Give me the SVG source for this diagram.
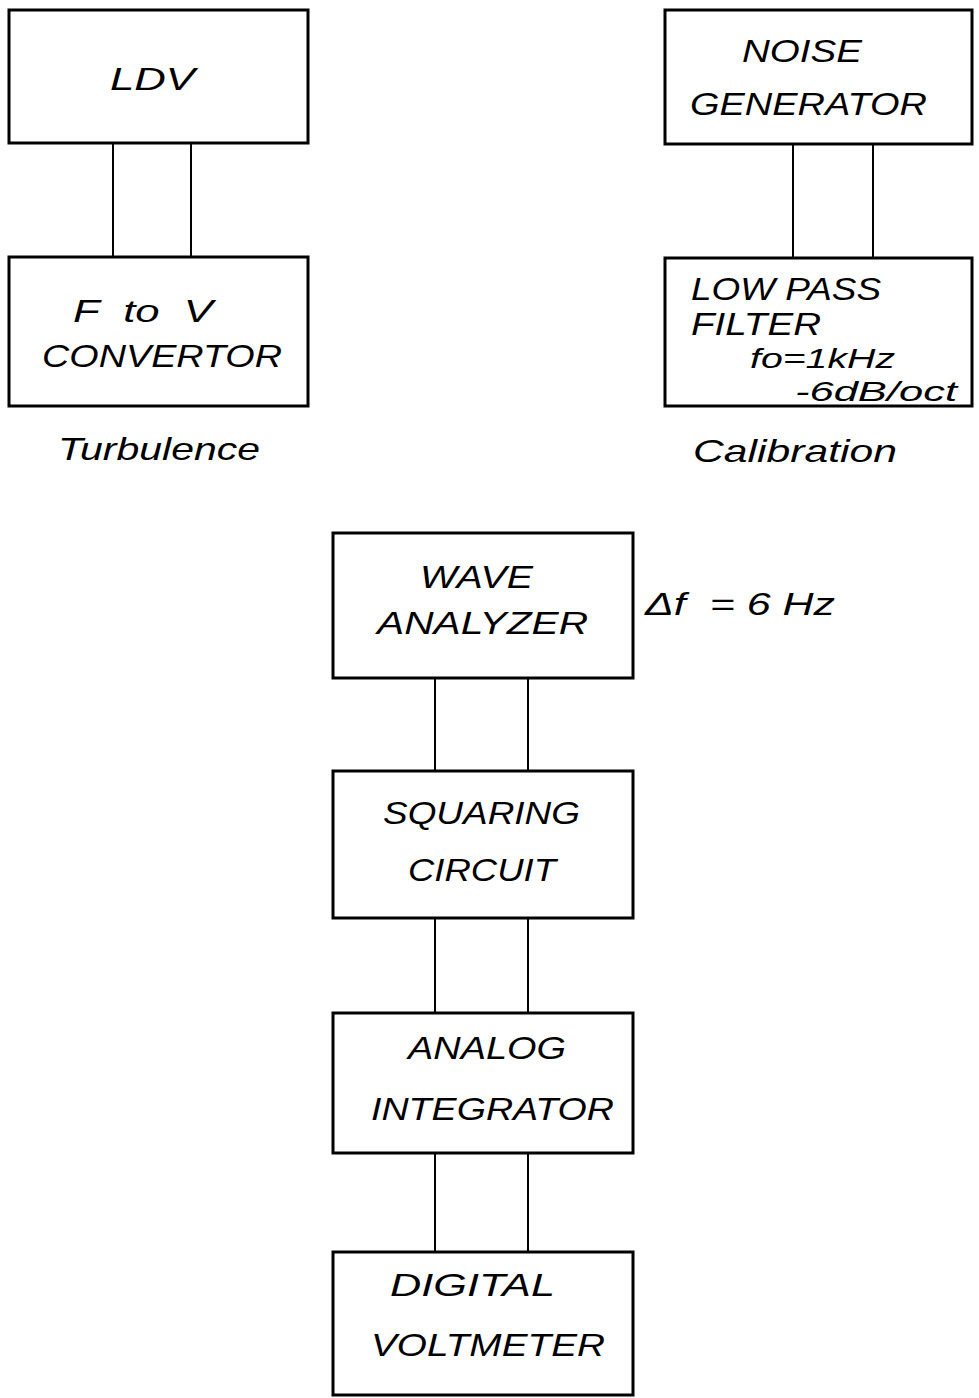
<svg xmlns="http://www.w3.org/2000/svg" width="979" height="1398" viewBox="0 0 979 1398">
<style>
.box{fill:none;stroke:#000;stroke-width:3}
.ln{stroke:#000;stroke-width:2;fill:none}
text{font-family:"Liberation Sans",Arial,sans-serif;font-style:italic;font-size:32px;fill:#000}
.sm{font-size:28px}
</style>
<rect width="979" height="1398" fill="#fff"/>
<g id="connectors">
<line class="ln" x1="113" y1="143" x2="113" y2="257"/>
<line class="ln" x1="191" y1="143" x2="191" y2="257"/>
<line class="ln" x1="793" y1="145" x2="793" y2="258"/>
<line class="ln" x1="873" y1="145" x2="873" y2="258"/>
<line class="ln" x1="435" y1="678" x2="435" y2="771"/>
<line class="ln" x1="528" y1="678" x2="528" y2="771"/>
<line class="ln" x1="435" y1="918" x2="435" y2="1013"/>
<line class="ln" x1="528" y1="918" x2="528" y2="1013"/>
<line class="ln" x1="435" y1="1153" x2="435" y2="1252"/>
<line class="ln" x1="528" y1="1153" x2="528" y2="1252"/>
</g>
<g id="ldv">
<rect class="box" x="9" y="10" width="299" height="133"/>
<text x="110" y="90" textLength="85" lengthAdjust="spacingAndGlyphs">LDV</text>
</g>
<g id="ftov">
<rect class="box" x="9" y="257" width="299" height="149"/>
<text x="73" y="322" xml:space="preserve" textLength="140" lengthAdjust="spacingAndGlyphs">F  to  V</text>
<text x="42" y="367" textLength="240" lengthAdjust="spacingAndGlyphs">CONVERTOR</text>
</g>
<text id="turbulence" x="58" y="460" textLength="202" lengthAdjust="spacingAndGlyphs">Turbulence</text>
<g id="noise">
<rect class="box" x="665" y="10" width="307" height="134"/>
<text x="742" y="62" textLength="120" lengthAdjust="spacingAndGlyphs">NOISE</text>
<text x="690" y="115" textLength="237" lengthAdjust="spacingAndGlyphs">GENERATOR</text>
</g>
<g id="lpf">
<rect class="box" x="665" y="258" width="307" height="148"/>
<text x="691" y="300" textLength="190" lengthAdjust="spacingAndGlyphs">LOW PASS</text>
<text x="691" y="335" textLength="130" lengthAdjust="spacingAndGlyphs">FILTER</text>
<text class="sm" x="750" y="368" textLength="145" lengthAdjust="spacingAndGlyphs">fo=1kHz</text>
<text class="sm" x="795" y="401" textLength="162" lengthAdjust="spacingAndGlyphs">-6dB/oct</text>
</g>
<text id="calibration" x="693" y="462" textLength="204" lengthAdjust="spacingAndGlyphs">Calibration</text>
<g id="wave">
<rect class="box" x="333" y="533" width="300" height="145"/>
<text x="420" y="588" textLength="113" lengthAdjust="spacingAndGlyphs">WAVE</text>
<text x="377" y="634" textLength="211" lengthAdjust="spacingAndGlyphs">ANALYZER</text>
</g>
<text id="deltaf" x="645" y="615" xml:space="preserve" textLength="190" lengthAdjust="spacingAndGlyphs">Δf  = 6 Hz</text>
<g id="squaring">
<rect class="box" x="333" y="771" width="300" height="147"/>
<text x="383" y="824" textLength="197" lengthAdjust="spacingAndGlyphs">SQUARING</text>
<text x="408" y="881" textLength="148" lengthAdjust="spacingAndGlyphs">CIRCUIT</text>
</g>
<g id="integrator">
<rect class="box" x="333" y="1013" width="300" height="140"/>
<text x="408" y="1059" textLength="158" lengthAdjust="spacingAndGlyphs">ANALOG</text>
<text x="371" y="1120" textLength="243" lengthAdjust="spacingAndGlyphs">INTEGRATOR</text>
</g>
<g id="dvm">
<rect class="box" x="333" y="1252" width="300" height="143"/>
<text x="390" y="1296" textLength="165" lengthAdjust="spacingAndGlyphs">DIGITAL</text>
<text x="371" y="1356" textLength="234" lengthAdjust="spacingAndGlyphs">VOLTMETER</text>
</g>
</svg>
